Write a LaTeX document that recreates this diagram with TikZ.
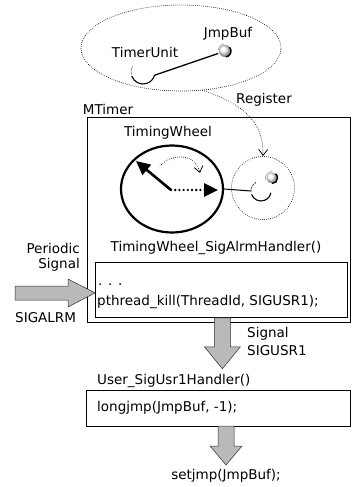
\documentclass[tikz,border=0pt]{standalone}
\usepackage{fontspec}
\setmainfont{DejaVu Sans}
\usetikzlibrary{arrows.meta,shapes.geometric,calc}
\begin{document}
\begin{tikzpicture}[x=1pt,y=-1pt,
  font=\fontsize{13.5}{15}\selectfont,
  lbl/.style={inner sep=0pt},
  dotline/.style={line width=0.9pt, line cap=round, dash pattern=on 0pt off 2pt},
  thickdots/.style={line width=2.6pt, line cap=round, dash pattern=on 0pt off 4.2pt},
  frame/.style={draw, line width=0.8pt, inner sep=0pt},
  blockarrow/.style={fill=gray!55, draw=gray!35!black, line width=0.5pt},
  openhead/.style={-{Straight Barb[length=6pt,width=9pt,line width=0.8pt]}},
  bighead/.style={-{Triangle[length=14pt,width=13pt]}},
  ballspot/.style={circle, inner sep=0pt},
  shinyball/.style={ball color=white}]
\useasboundingbox (0,0) rectangle (351,487);

% ---------- TimerUnit group ----------
\node[ellipse, draw, dotline, minimum width=200, minimum height=86] (grp) at (181,48) {};
\node[lbl] (tutext) at (145,52) {TimerUnit};
\node[lbl] (jbtext) at (228,34) {JmpBuf};

\node[ballspot, minimum size=24] (tu) at (143,72) {};
\draw[line width=0.5pt, gray] (tu.center) ++(150:12pt) arc[start angle=150, end angle=195, radius=12pt];
\draw[line width=1.1pt] (tu.center) ++(200:12pt) arc[start angle=200, end angle=345, radius=12pt];

\node[ballspot, minimum size=14] (jb) at (225,51) {};
\shade[shinyball] (jb.center) circle[radius=6pt];
\draw[line width=0.5pt, gray] (jb.center) ++(100:7pt) arc[start angle=100, end angle=170, radius=7pt];
\draw[line width=1.4pt] (jb.center) ++(-80:6pt) arc[start angle=-80, end angle=40, radius=6pt];

\draw[line width=1.3pt] (tu.-15) -- (jb.200);

% ---------- MTimer ----------
\node[lbl] (mtlabel) at (108,109) {MTimer};
\node[lbl] (reglabel) at (264,100) {Register};
\node[frame, anchor=north west, minimum width=263, minimum height=205] (mt) at (87,117) {};

\node[lbl] (twlabel) at (168,133) {TimingWheel};
\node[ellipse, draw, line width=2.2pt, minimum width=102, minimum height=87, inner sep=0pt] (tw) at (172,189) {};

% registration slot holding the JmpBuf
\node[circle, draw, dotline, minimum size=63] (rg) at (263,188) {};
\node[ballspot, minimum size=20] (blob) at (261,191) {};
\node[ballspot, minimum size=13] (bump) at (272,178) {};
\draw[line width=0.6pt, dash pattern=on 2pt off 1pt] (blob.center) ++(120:10pt) arc[start angle=120, end angle=190, radius=10pt];
\draw[line width=1.1pt] (blob.center) ++(200:10pt) arc[start angle=200, end angle=350, radius=10pt];
\shade[shinyball] (bump.center) circle[radius=5.5pt];
\draw[line width=0.5pt, gray] (bump.center) ++(90:6.5pt) arc[start angle=90, end angle=200, radius=6.5pt];
\draw[line width=1.4pt] (bump.center) ++(-90:5.5pt) arc[start angle=-90, end angle=50, radius=5.5pt];

\draw[line width=1pt] (tw.east) -- (blob.west);

% hands of the wheel
\coordinate (hub) at (171,190);
\coordinate (hand) at (136,161);
\coordinate (next) at (218,190);
\coordinate (arcfrom) at (160,166);
\coordinate (arcto) at (200,173);
\draw[line width=2.6pt, bighead] (hub) -- (hand);
\draw[thickdots, bighead] (hub) -- (next);
\draw[dotline, openhead] (arcfrom) .. controls (170,154) and (195,152) .. (arcto);

% registration arrow
\draw[dotline, openhead] (grp.-63) .. controls (245,104) and (264,124) .. (rg.north);

% ---------- SIGALRM handler ----------
\node[lbl] (hlabel) at (216,248) {TimingWheel\_SigAlrmHandler()};
\node[frame, anchor=north west, minimum width=252, minimum height=55] (hb) at (95,262) {};
\node[lbl, anchor=west] (dots) at (98,285) {. . .};
\node[lbl, anchor=west] (kill) at (97,302) {pthread\_kill(ThreadId, SIGUSR1);};

\node[lbl, anchor=east] (per1) at (80,248) {Periodic};
\node[lbl, anchor=east] (per2) at (80,265) {Signal};
\node[lbl, anchor=west] (alrm) at (15,318) {SIGALRM};

\draw[blockarrow] (15,286) -- (68,286) -- (68,279) -- ($(hb.west)+(0,3)$) -- (68,307) -- (68,300) -- (15,300) -- cycle;

% ---------- SIGUSR1 ----------
\draw[blockarrow] ($(hb.south)+(-7,0)$) coordinate (a1) -- ++(16,0) -- ++(0,29) -- ++(10,0) -- ++(-18,22) -- ++(-18,-22) -- ++(10,0) -- cycle;
\node[lbl, anchor=west] (sig1) at (247,334) {Signal};
\node[lbl, anchor=west] (sig2) at (247,351) {SIGUSR1};

\node[lbl, anchor=west] (ulabel) at (97,381) {User\_SigUsr1Handler()};
\node[frame, anchor=north west, minimum width=264, minimum height=36] (ub) at (86,390) {};
\node[lbl, anchor=west] (ljmp) at (97,408) {longjmp(JmpBuf, -1);};

\coordinate (a2) at (218,426);
\draw[blockarrow] (a2) -- ++(16,0) -- ++(0,20) -- ++(8,0) -- ++(-16,19) -- ++(-16,-19) -- ++(8,0) -- cycle;

\node[lbl] (sjmp) at (226,476) {setjmp(JmpBuf);};
\end{tikzpicture}
\end{document}
